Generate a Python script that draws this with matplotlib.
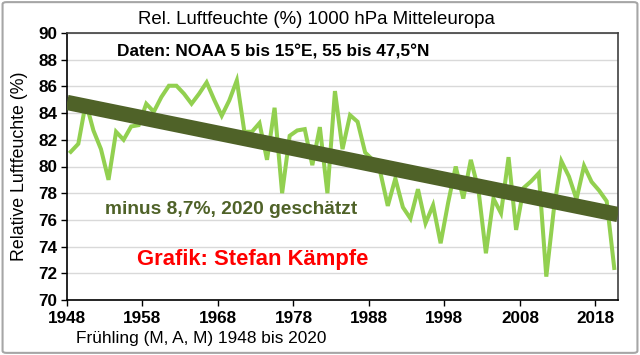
import matplotlib
matplotlib.use("Agg")
import matplotlib.pyplot as plt
from matplotlib.patches import FancyBboxPatch
import numpy as np

plt.rcParams['font.family'] = ['Liberation Sans', 'DejaVu Sans']

# spring (M, A, M) relative humidity, 1000 hPa, central Europe
years = np.arange(1948, 2021)
humidity = [
    81.1, 81.7, 84.8, 82.7, 81.3, 79.0, 82.6, 82.0, 83.0, 83.1,   # 1948-1957
    84.7, 84.1, 85.2, 86.05, 86.05, 85.45, 84.7, 85.45, 86.3, 85.0,  # 1958-1967
    83.8, 84.95, 86.45, 82.6, 82.6, 83.25, 80.5, 84.4, 78.0, 82.3,  # 1968-1977
    82.7, 82.8, 80.1, 82.95, 78.0, 85.65, 81.3, 83.85, 83.35, 81.05,  # 1978-1987
    80.5, 79.6, 77.05, 79.1, 76.95, 76.1, 78.3, 75.75, 77.1, 74.25,  # 1988-1997
    77.3, 80.0, 77.6, 80.5, 78.3, 73.5, 77.6, 76.5, 80.7, 75.25,  # 1998-2007
    78.4, 78.9, 79.5, 71.75, 76.8, 80.4, 79.25, 77.55, 80.05, 78.85,  # 2008-2017
    78.2, 77.4, 72.4,  # 2018-2020
]

# linear trend as drawn in the original (value at first and last year)
trend_years = [1947.5, 2020.5]
trend_values = [84.8, 76.4]

ytick_vals = list(range(70, 91, 2))
xtick_pos = [1947.5 + 10 * k for k in range(8)]
xtick_labels = [str(1948 + 10 * k) for k in range(8)]

fig = plt.figure(figsize=(6.4, 3.55), dpi=100)
ax = fig.add_axes([67 / 640, 1 - 300 / 355, 551 / 640, 267 / 355])

# outer chart border
fig.patches.append(FancyBboxPatch((0.004, 0.006), 0.992, 0.988, boxstyle="round,pad=0,rounding_size=0.006",
                                  transform=fig.transFigure, fill=False, edgecolor='#a6a6a6', linewidth=1.5))

ax.plot(years, humidity, color='#92D050', linewidth=2.9, zorder=2, solid_joinstyle='miter')
ax.plot(trend_years, trend_values, color='#4F6228', linewidth=11, zorder=3, solid_capstyle='butt')

ax.set_xlim(1947.5, 2020.5)
ax.set_ylim(70, 90)
ax.set_yticks(ytick_vals)
ax.set_xticks(xtick_pos)
ax.set_xticklabels(xtick_labels)
ax.tick_params(axis='both', direction='out', length=4, width=1, labelsize=12.3, colors='black')
for lab in ax.get_xticklabels() + ax.get_yticklabels():
    lab.set_fontweight('bold')
ax.tick_params(axis='x', pad=4)
ax.tick_params(axis='y', pad=3)

ax.grid(axis='y', color='#d9d9d9', linewidth=1)
ax.set_axisbelow(True)
ax.spines['left'].set_color('black')
ax.spines['bottom'].set_color('black')
ax.spines['top'].set_color('#404040')
ax.spines['right'].set_color('#404040')
for s in ax.spines.values():
    s.set_linewidth(1.2)

fig.text(20 / 640, 1 - 166 / 355, 'Relative Luftfeuchte (%)', fontsize=12.8, rotation=90, ha='center', va='center')
fig.text(76 / 640, 1 - 338 / 355, 'Frühling (M, A, M) 1948 bis 2020', fontsize=12.4, va='center', ha='left')
fig.text(316 / 640, 1 - 19 / 355, 'Rel. Luftfeuchte (%) 1000 hPa Mitteleuropa', fontsize=13.4, ha='center', va='center')

fig.text(117 / 640, 1 - 52 / 355, 'Daten: NOAA 5 bis 15°E, 55 bis 47,5°N', fontsize=12.4, fontweight='bold',
         ha='left', va='center')
fig.text(105 / 640, 1 - 210 / 355, 'minus 8,7%, 2020 geschätzt', fontsize=13.8, fontweight='bold',
         color='#4F6228', ha='left', va='center')
fig.text(137 / 640, 1 - 260 / 355, 'Grafik: Stefan Kämpfe', fontsize=15.8, fontweight='bold',
         color='#FF0000', ha='left', va='center')

fig.savefig('out.png', dpi=100)
